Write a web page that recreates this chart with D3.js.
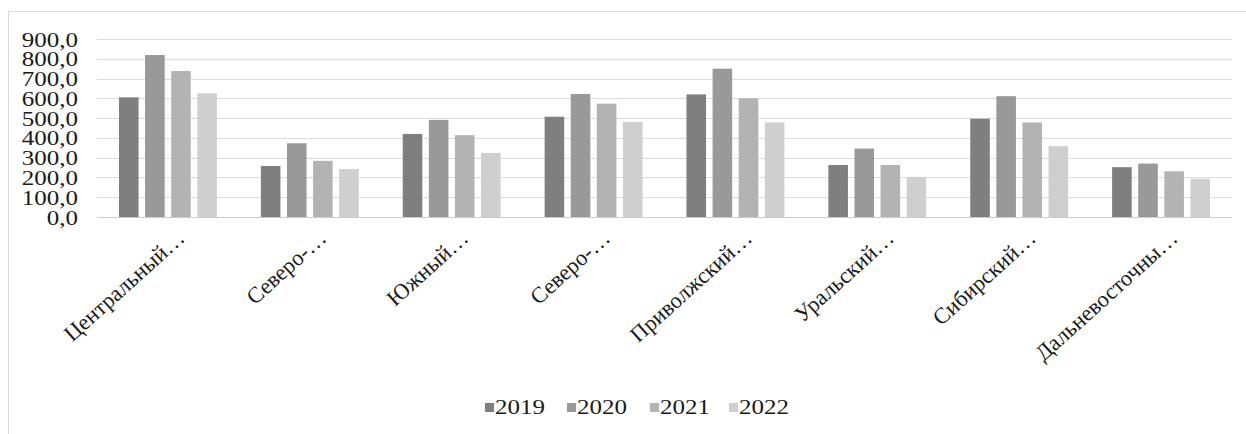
<!DOCTYPE html>
<html>
<head>
<meta charset="utf-8">
<script src="https://cdn.jsdelivr.net/npm/d3@7/dist/d3.min.js"></script>
<style>
  html, body { margin: 0; padding: 0; background: #fff; }
  svg { display: block; }
  text { font-family: "Liberation Serif", "Times New Roman", serif; fill: #1a1a1a; }
</style>
</head>
<body>
<svg id="chart" width="1246" height="434"></svg>
<script>
// Federal districts (labels are truncated as in the source layout)
const categories = [
  "Центральный…", "Северо-…", "Южный…", "Северо-…",
  "Приволжский…", "Уральский…", "Сибирский…", "Дальневосточны…"
];
const years = ["2019", "2020", "2021", "2022"];

const values2019 = [605, 258, 420, 507, 620, 263, 497, 252];
const values2020 = [819, 373, 491, 622, 750, 346, 611, 270];
const values2021 = [738, 284, 414, 573, 600, 263, 478, 231];
const values2022 = [625, 242, 324, 481, 478, 203, 358, 193];

const yTicks = [0, 100, 200, 300, 400, 500, 600, 700, 800, 900];

const seriesValues = [values2019, values2020, values2021, values2022];
const colors = ["#7f7f7f", "#999999", "#b3b3b3", "#cfcfcf"];

const svg = d3.select("#chart");

// outer chart frame
svg.append("rect")
  .attr("x", 8.5).attr("y", 11.5)
  .attr("width", 1260).attr("height", 440)
  .attr("fill", "none").attr("stroke", "#d9d9d9");

const plot = { left: 97, right: 1232, top: 39, bottom: 217 };

const y = d3.scaleLinear().domain([0, 900]).range([plot.bottom, plot.top]);

const x0 = d3.scaleBand()
  .domain(d3.range(categories.length))
  .range([plot.left, plot.right])
  .paddingInner(0.31)
  .paddingOuter(0.155);

const x1 = d3.scaleBand()
  .domain(years)
  .range([0, x0.bandwidth()])
  .paddingInner(0.25);

const fmt = v => d3.format(".1f")(v).replace(".", ",");

// horizontal gridlines
svg.append("g")
  .selectAll("line")
  .data(yTicks)
  .join("line")
  .attr("x1", plot.left).attr("x2", plot.right)
  .attr("y1", d => Math.round(y(d)) + 0.5)
  .attr("y2", d => Math.round(y(d)) + 0.5)
  .attr("stroke", d => d === 0 ? "#cccccc" : "#dcdcdc")
  .attr("stroke-width", 1.2);

// y tick labels
svg.append("g")
  .selectAll("text")
  .data(yTicks)
  .join("text")
  .attr("transform", d => `translate(78,${y(d)}) scale(1.25,1)`)
  .attr("dy", "0.38em")
  .attr("text-anchor", "end")
  .style("font-size", "20px")
  .text(fmt);

// grouped bars
const groups = svg.append("g")
  .selectAll("g")
  .data(categories.map((c, i) => i))
  .join("g")
  .attr("transform", i => `translate(${x0(i)},0)`);

groups.selectAll("rect")
  .data(i => years.map((yr, s) => ({ yr, s, v: seriesValues[s][i] })))
  .join("rect")
  .attr("x", d => x1(d.yr))
  .attr("y", d => y(d.v))
  .attr("width", x1.bandwidth())
  .attr("height", d => y(0) - y(d.v))
  .attr("fill", d => colors[d.s]);

// rotated category labels
svg.append("g")
  .selectAll("text")
  .data(categories)
  .join("text")
  .attr("transform", (d, i) =>
    `translate(${x0(i) + x0.bandwidth() / 2 + 18},240) rotate(-42)`)
  .attr("text-anchor", "end")
  .style("font-size", "22.5px")
  .text(d => d);

// legend
const legendX = [485, 567, 650, 729];
const legend = svg.append("g")
  .selectAll("g")
  .data(years)
  .join("g")
  .attr("transform", (d, i) => `translate(${legendX[i]},403)`);

legend.append("rect")
  .attr("width", 9).attr("height", 9)
  .attr("fill", (d, i) => colors[i]);

legend.append("text")
  .attr("transform", "translate(10,11) scale(1.25,1)")
  .style("font-size", "20px")
  .text(d => d);
</script>
</body>
</html>
